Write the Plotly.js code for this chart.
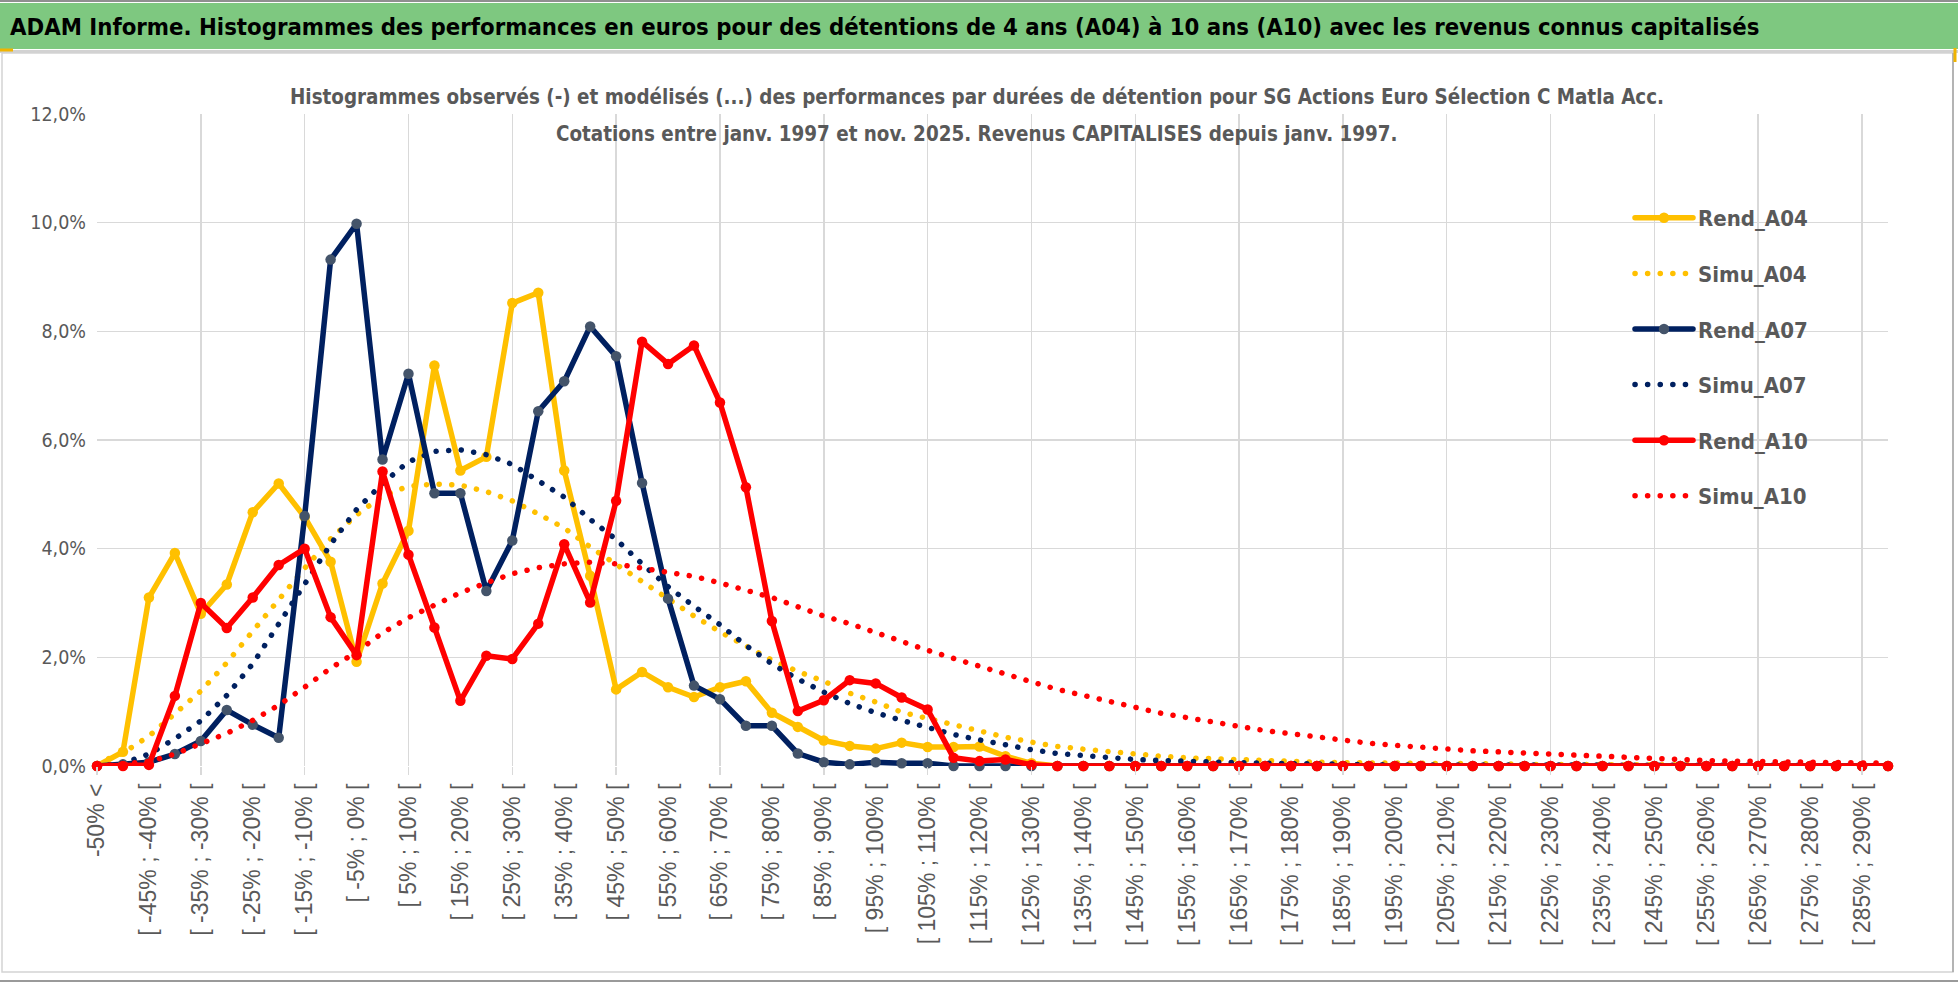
<!DOCTYPE html>
<html>
<head>
<meta charset="utf-8">
<script src="https://cdn.plot.ly/plotly-3.0.1.min.js"></script>
<style>
  html, body { margin: 0; padding: 0; background: #ffffff; }
  #chart { width: 1958px; height: 983px; }
  .js-line, .legendlines path { stroke-linecap: round; stroke-linejoin: round; }
</style>
</head>
<body>
<div id="chart"></div>
<script>
// ---------------- DATA ----------------
const categories = [
  "-50% <", "[ -50% ; -45% [", "[ -45% ; -40% [", "[ -40% ; -35% [", "[ -35% ; -30% [",
  "[ -30% ; -25% [", "[ -25% ; -20% [", "[ -20% ; -15% [", "[ -15% ; -10% [", "[ -10% ; -5% [",
  "[ -5% ; 0% [", "[ 0% ; 5% [", "[ 5% ; 10% [", "[ 10% ; 15% [", "[ 15% ; 20% [",
  "[ 20% ; 25% [", "[ 25% ; 30% [", "[ 30% ; 35% [", "[ 35% ; 40% [", "[ 40% ; 45% [",
  "[ 45% ; 50% [", "[ 50% ; 55% [", "[ 55% ; 60% [", "[ 60% ; 65% [", "[ 65% ; 70% [",
  "[ 70% ; 75% [", "[ 75% ; 80% [", "[ 80% ; 85% [", "[ 85% ; 90% [", "[ 90% ; 95% [",
  "[ 95% ; 100% [", "[ 100% ; 105% [", "[ 105% ; 110% [", "[ 110% ; 115% [", "[ 115% ; 120% [",
  "[ 120% ; 125% [", "[ 125% ; 130% [", "[ 130% ; 135% [", "[ 135% ; 140% [", "[ 140% ; 145% [",
  "[ 145% ; 150% [", "[ 150% ; 155% [", "[ 155% ; 160% [", "[ 160% ; 165% [", "[ 165% ; 170% [",
  "[ 170% ; 175% [", "[ 175% ; 180% [", "[ 180% ; 185% [", "[ 185% ; 190% [", "[ 190% ; 195% [",
  "[ 195% ; 200% [", "[ 200% ; 205% [", "[ 205% ; 210% [", "[ 210% ; 215% [", "[ 215% ; 220% [",
  "[ 220% ; 225% [", "[ 225% ; 230% [", "[ 230% ; 235% [", "[ 235% ; 240% [", "[ 240% ; 245% [",
  "[ 245% ; 250% [", "[ 250% ; 255% [", "[ 255% ; 260% [", "[ 260% ; 265% [", "[ 265% ; 270% [",
  "[ 270% ; 275% [", "[ 275% ; 280% [", "[ 280% ; 285% [", "[ 285% ; 290% [", "[ 290% ; 295% ["
];

// values in percent
const rendA04 = [
  0.00, 0.26, 3.10, 3.92, 2.80, 3.34, 4.67, 5.20, 4.58, 3.76,
  1.92, 3.36, 4.33, 7.37, 5.44, 5.69, 8.52, 8.71, 5.44, 3.50,
  1.41, 1.73, 1.45, 1.27, 1.45, 1.56, 0.98, 0.72, 0.47, 0.37,
  0.32, 0.43, 0.35, 0.35, 0.36, 0.18, 0.05, 0, 0, 0,
  0, 0, 0, 0, 0, 0, 0, 0, 0, 0,
  0, 0, 0, 0, 0, 0, 0, 0, 0, 0,
  0, 0, 0, 0, 0, 0, 0, 0, 0, 0
];
const simuA04 = [
  0.05, 0.24, 0.55, 0.95, 1.38, 1.90, 2.48, 3.08, 3.64, 4.18,
  4.62, 4.97, 5.15, 5.19, 5.17, 5.05, 4.88, 4.64, 4.38, 4.03,
  3.71, 3.40, 3.08, 2.76, 2.47, 2.21, 1.95, 1.74, 1.56, 1.34,
  1.18, 0.99, 0.87, 0.75, 0.64, 0.53, 0.44, 0.36, 0.31, 0.26,
  0.22, 0.18, 0.15, 0.13, 0.12, 0.10, 0.08, 0.07, 0.06, 0.06,
  0.05, 0.05, 0.04, 0.04, 0.04, 0.03, 0.03, 0.03, 0.02, 0.02,
  0.02, 0.02, 0.02, 0.01, 0.01, 0.01, 0.01, 0.01, 0.01, 0.01
];
const rendA07 = [
  0.00, 0.03, 0.07, 0.22, 0.46, 1.03, 0.76, 0.52, 4.60, 9.32,
  9.98, 5.64, 7.22, 5.02, 5.02, 3.22, 4.15, 6.53, 7.08, 8.09,
  7.54, 5.21, 3.08, 1.48, 1.23, 0.74, 0.74, 0.23, 0.07, 0.03,
  0.07, 0.05, 0.05, 0, 0, 0, 0, 0, 0, 0,
  0, 0, 0, 0, 0, 0, 0, 0, 0, 0,
  0, 0, 0, 0, 0, 0, 0, 0, 0, 0,
  0, 0, 0, 0, 0, 0, 0, 0, 0, 0
];
const simuA07 = [
  0.00, 0.05, 0.22, 0.50, 0.83, 1.30, 1.88, 2.60, 3.34, 4.08,
  4.72, 5.20, 5.60, 5.79, 5.82, 5.73, 5.55, 5.26, 4.95, 4.54,
  4.17, 3.72, 3.30, 2.94, 2.60, 2.22, 1.88, 1.60, 1.36, 1.15,
  0.98, 0.84, 0.70, 0.58, 0.48, 0.38, 0.30, 0.23, 0.19, 0.15,
  0.12, 0.10, 0.08, 0.07, 0.06, 0.05, 0.04, 0.04, 0.03, 0.03,
  0.02, 0.02, 0.02, 0.01, 0.01, 0.01, 0.01, 0.01, 0.01, 0.01,
  0.01, 0.01, 0.01, 0.01, 0.01, 0.01, 0.01, 0.01, 0.01, 0.01
];
const rendA10 = [
  0.00, 0.00, 0.02, 1.29, 3.00, 2.54, 3.10, 3.70, 4.00, 2.74,
  2.04, 5.42, 3.89, 2.55, 1.20, 2.03, 1.97, 2.62, 4.08, 3.01,
  4.88, 7.81, 7.40, 7.74, 6.69, 5.13, 2.67, 1.01, 1.21, 1.58,
  1.52, 1.26, 1.04, 0.15, 0.09, 0.12, 0.02, 0, 0, 0,
  0, 0, 0, 0, 0, 0, 0, 0, 0, 0,
  0, 0, 0, 0, 0, 0, 0, 0, 0, 0,
  0, 0, 0, 0, 0, 0, 0, 0, 0, 0
];
const simuA10 = [
  0.00, 0.03, 0.08, 0.22, 0.40, 0.60, 0.84, 1.12, 1.45, 1.80,
  2.10, 2.45, 2.73, 2.96, 3.19, 3.37, 3.54, 3.65, 3.72, 3.75,
  3.72, 3.64, 3.57, 3.49, 3.37, 3.23, 3.10, 2.93, 2.76, 2.62,
  2.45, 2.30, 2.13, 1.98, 1.83, 1.70, 1.55, 1.41, 1.30, 1.19,
  1.06, 0.97, 0.89, 0.80, 0.73, 0.65, 0.59, 0.52, 0.47, 0.42,
  0.38, 0.34, 0.31, 0.28, 0.26, 0.24, 0.22, 0.19, 0.17, 0.14,
  0.13, 0.11, 0.10, 0.09, 0.085, 0.075, 0.07, 0.06, 0.055, 0.05
];

const yTickValues = [0, 2, 4, 6, 8, 10, 12];
const yTickLabels = ["0,0%", "2,0%", "4,0%", "6,0%", "8,0%", "10,0%", "12,0%"];

// ---------------- LAYOUT GEOMETRY ----------------
const W = 1958, H = 983;
const M = { l: 97, r: 70, t: 114, b: 217 };
const PW = W - M.l - M.r, PH = H - M.t - M.b;
const px2x = px => (px - M.l) / PW;
const px2y = py => (H - M.b - py) / PH;

const idx = categories.map((_, i) => i);
const labelIdx = idx.filter(i => i % 2 === 0);
const gridIdx = idx.filter(i => i % 4 === 0);

const GRAY_TXT = '#595959';
const NARROW = '"DejaVu Sans Condensed", "Liberation Sans Narrow", sans-serif';
const ARIAL = '"Liberation Sans", Arial, sans-serif';
const DOT = '0.1px,12.5px';

function rend(name, y, color, mcolor) {
  return {
    type: 'scatter', mode: 'lines+markers', name: name, legendgroup: name,
    x: idx, y: y, cliponaxis: false,
    line: { color: color, width: 5.5 },
    marker: { color: mcolor, size: 10.5, symbol: 'circle' },
    hoverinfo: 'skip'
  };
}
function simu(name, y, color) {
  return {
    type: 'scatter', mode: 'lines', name: name, legendgroup: name,
    x: idx, y: y, cliponaxis: false,
    line: { color: color, width: 5.5, dash: DOT },
    hoverinfo: 'skip'
  };
}

const traces = [
  // carrier for the grid axis (draws nothing)
  { type: 'scatter', mode: 'lines', x: gridIdx, y: gridIdx.map(() => null), xaxis: 'x2', yaxis: 'y',
    showlegend: false, hoverinfo: 'skip', line: { width: 0 } },
  rend('Rend_A04', rendA04, '#FFC000', '#FFC000'),
  simu('Simu_A04', simuA04, '#FFC000'),
  rend('Rend_A07', rendA07, '#002060', '#44546A'),
  simu('Simu_A07', simuA07, '#002060'),
  rend('Rend_A10', rendA10, '#FF0000', '#FF0000'),
  simu('Simu_A10', simuA10, '#FF0000')
];

const shapes = [
  { type: 'rect', xref: 'paper', yref: 'paper', x0: px2x(0), x1: px2x(W), y0: px2y(49), y1: px2y(3),
    fillcolor: '#7EC880', line: { width: 0 }, layer: 'below' },
  { type: 'line', xref: 'paper', yref: 'paper', x0: px2x(0), x1: px2x(W), y0: px2y(1), y1: px2y(1),
    line: { color: '#8f8f8f', width: 2 } },
  { type: 'line', xref: 'paper', yref: 'paper', x0: px2x(0), x1: px2x(W), y0: px2y(51.5), y1: px2y(51.5),
    line: { color: '#d2d2d2', width: 3 } },
  { type: 'rect', xref: 'paper', yref: 'paper', x0: px2x(2), x1: px2x(1953), y0: px2y(972), y1: px2y(53),
    line: { color: '#d4d4d4', width: 1.5 }, fillcolor: 'rgba(0,0,0,0)', layer: 'below' },
  { type: 'line', xref: 'paper', yref: 'paper', x0: px2x(0), x1: px2x(W), y0: px2y(981), y1: px2y(981),
    line: { color: '#9a9a9a', width: 2 } },
  { type: 'line', xref: 'paper', yref: 'paper', x0: px2x(1953), x1: px2x(1953), y0: px2y(972), y1: px2y(53),
    line: { color: '#a6a6a6', width: 1.5 } },
  { type: 'line', xref: 'paper', yref: 'paper', x0: px2x(0), x1: px2x(13), y0: px2y(50), y1: px2y(50),
    line: { color: '#F0B400', width: 3 } },
  { type: 'line', xref: 'paper', yref: 'paper', x0: px2x(1955), x1: px2x(1955), y0: px2y(48), y1: px2y(62),
    line: { color: '#F0B400', width: 3 } },
  { type: 'rect', xref: 'paper', yref: 'paper', x0: px2x(282), x1: px2x(1672), y0: px2y(157), y1: px2y(108),
    fillcolor: '#ffffff', line: { width: 0 }, layer: 'between' },
  { type: 'rect', xref: 'paper', yref: 'paper', x0: px2x(1600), x1: px2x(1866), y0: px2y(524), y1: px2y(194),
    fillcolor: '#ffffff', line: { width: 0 }, layer: 'between' }
];

const layout = {
  width: W, height: H,
  margin: M,
  paper_bgcolor: '#ffffff', plot_bgcolor: '#ffffff',
  separators: ', ',
  showlegend: true,
  title: {
    text: 'ADAM Informe. Histogrammes des performances en euros pour des détentions de 4 ans (A04) à 10 ans (A10) avec les revenus connus capitalisés',
    xref: 'container', yref: 'container', x: 10 / W, xanchor: 'left', y: 1 - 27 / H, yanchor: 'middle',
    font: { family: NARROW, size: 23.7, color: '#000000', weight: 'bold' }
  },
  xaxis: {
    type: 'linear', range: [0, 69], fixedrange: true,
    tickmode: 'array', tickvals: labelIdx, ticktext: labelIdx.map(i => categories[i]),
    tickangle: -90, showgrid: false, zeroline: false, showline: false, ticks: '',
    ticklabelstandoff: 12,
    tickfont: { family: ARIAL, size: 23, color: GRAY_TXT }
  },
  xaxis2: {
    type: 'linear', range: [0, 69], overlaying: 'x', anchor: 'y', side: 'bottom', fixedrange: true,
    tickmode: 'array', tickvals: gridIdx, showticklabels: false,
    showgrid: true, gridcolor: '#d9d9d9', gridwidth: 1.5,
    ticks: 'outside', ticklen: 8, tickcolor: '#d9d9d9', tickwidth: 1.5,
    zeroline: false, showline: false
  },
  yaxis: {
    range: [0, 12], fixedrange: true,
    tickmode: 'array', tickvals: yTickValues, ticktext: yTickLabels,
    showgrid: true, gridcolor: '#d9d9d9', gridwidth: 1.5,
    zeroline: false, showline: false, ticks: '',
    ticklabelstandoff: 10,
    tickfont: { family: NARROW, size: 19.5, color: GRAY_TXT }
  },
  legend: {
    x: px2x(1630), xanchor: 'left', y: px2y(197), yanchor: 'top',
    bgcolor: 'rgba(0,0,0,0)', borderwidth: 0,
    font: { family: NARROW, size: 22, color: GRAY_TXT, weight: 'bold' },
    tracegroupgap: 24, itemwidth: 58, traceorder: 'grouped'
  },
  annotations: [
    { xref: 'paper', yref: 'paper', x: px2x(977), y: px2y(97), xanchor: 'center', yanchor: 'middle',
      text: 'Histogrammes observés (-) et modélisés (...) des performances par durées de détention pour SG Actions Euro Sélection C Matla Acc.',
      showarrow: false, font: { family: NARROW, size: 20.4, color: GRAY_TXT, weight: 'bold' } },
    { xref: 'paper', yref: 'paper', x: px2x(977), y: px2y(134), xanchor: 'center', yanchor: 'middle',
      text: 'Cotations entre janv. 1997 et nov. 2025. Revenus CAPITALISES depuis janv. 1997.',
      showarrow: false, font: { family: NARROW, size: 20.4, color: GRAY_TXT, weight: 'bold' } }
  ],
  shapes: shapes,
  hovermode: false
};

Plotly.newPlot('chart', traces, layout, { staticPlot: true, displayModeBar: false });
</script>
</body>
</html>
